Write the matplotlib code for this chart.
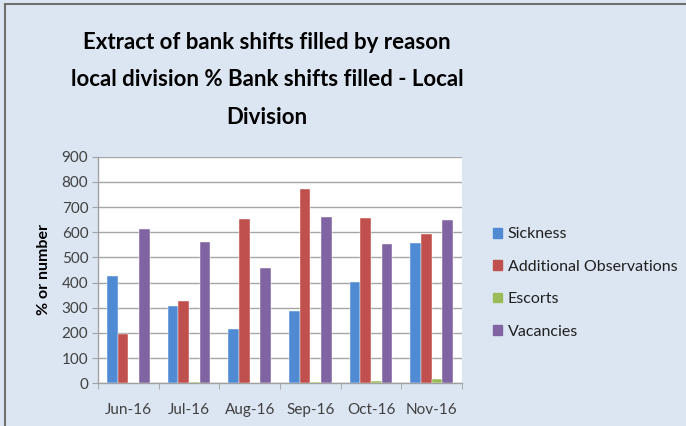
import matplotlib
matplotlib.use("Agg")
import matplotlib.pyplot as plt
from matplotlib.lines import Line2D
import numpy as np

plt.rcParams['font.family'] = ['Lato', 'DejaVu Sans']

months = ["Jun-16", "Jul-16", "Aug-16", "Sep-16", "Oct-16", "Nov-16"]
series_names = ["Sickness", "Additional Observations", "Escorts", "Vacancies"]
sickness = [425, 308, 214, 286, 402, 556]
additional = [195, 328, 654, 770, 658, 592]
escorts = [3, 6, 3, 7, 8, 17]
vacancies = [612, 561, 459, 662, 554, 647]
yticks = [0, 100, 200, 300, 400, 500, 600, 700, 800, 900]

colors = ["#4F8AD3", "#C0504D", "#9BBB59", "#8064A2"]
bg = "#DCE6F2"

fig = plt.figure(figsize=(6.86, 4.26), dpi=100, facecolor=bg)
ax = fig.add_axes([98/686, 1-383.3/426, (462-98)/686, (383.3-156.7)/426])
ax.set_facecolor("white")

x = np.arange(len(months))
w = 0.176
data = [sickness, additional, escorts, vacancies]
for i, (vals, name, c) in enumerate(zip(data, series_names, colors)):
    ax.bar(x + (i - 1.5) * w, vals, width=w, color=c, label=name, zorder=3,
           edgecolor="white", linewidth=0.3)

ax.set_xlim(-0.5, len(months) - 0.5)
ax.set_ylim(0, 900)
ax.set_yticks(yticks)
ax.set_yticklabels([str(v) for v in yticks], fontsize=11, color="#404040")
ax.set_xticks(x)
ax.set_xticklabels(months, fontsize=11, color="#404040")
ax.set_xticks(np.arange(-0.5, len(months), 1), minor=True)
ax.tick_params(axis='x', which='major', length=0, pad=14)
ax.tick_params(axis='x', which='minor', length=4, color="#A0A0A0", direction='out')
ax.tick_params(axis='y', length=4, color="#A0A0A0", direction='out', pad=3)
ax.grid(axis='y', color="#A6A6A6", linewidth=1, zorder=0)
for s in ['top', 'right']:
    ax.spines[s].set_visible(False)
for s in ['left', 'bottom']:
    ax.spines[s].set_color("#A0A0A0")
    ax.spines[s].set_linewidth(1)

ax.set_ylabel("% or number", fontsize=11.5, fontweight='bold', color="black", labelpad=8)

fig.text(267/686, 1-80/426,
         "Extract of bank shifts filled by reason\nlocal division % Bank shifts filled - Local\nDivision",
         ha='center', va='center', fontsize=16, fontweight='bold', linespacing=1.95)

handles = [plt.Rectangle((0, 0), 1, 1, color=c) for c in colors]
fig.legend(handles, series_names, loc='center left', bbox_to_anchor=(479/686, 1-283/426),
           frameon=False, fontsize=11.5, handlelength=0.55, handleheight=0.55,
           handletextpad=0.35, labelspacing=1.15, labelcolor="#202020")

fig.add_artist(Line2D([5/686, 1], [1-4/426, 1-4/426], transform=fig.transFigure, color="#707070", lw=1.5))
fig.add_artist(Line2D([5/686, 5/686], [0, 1-4/426], transform=fig.transFigure, color="#707070", lw=1.5))

fig.savefig("out.png", dpi=100, facecolor=bg)
